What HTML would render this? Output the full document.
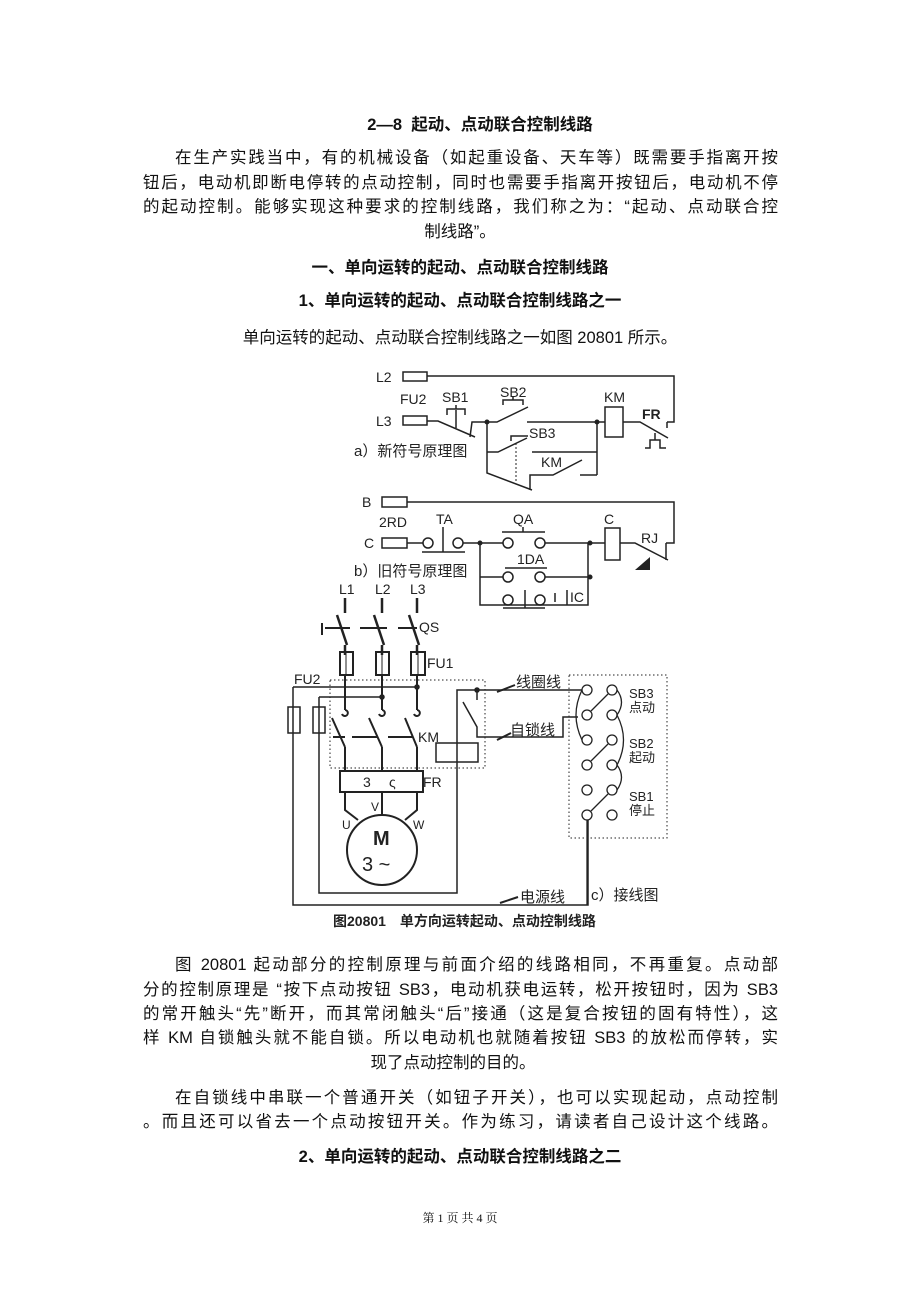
<!DOCTYPE html>
<html><head><meta charset="utf-8"><style>
body{margin:0;background:#fff;}
#p{position:relative;width:920px;height:1302px;overflow:hidden;font-family:"Liberation Sans","Noto Sans CJK SC",sans-serif;color:#111;}
.l{position:absolute;font-size:16.5px;line-height:24px;white-space:nowrap;}
.j{text-align:justify;text-align-last:justify;white-space:normal;overflow:hidden;height:24px;}
.c{left:0;width:920px;text-align:center;}
.b{font-weight:bold;}
svg{position:absolute;left:0;top:0;}
</style></head><body><div id="p">
<div class="l c b" style="top:113px;left:20px">2—8&nbsp;&nbsp;起动、点动联合控制线路</div>
<div class="l j" style="top:146px;left:175px;width:603px">在生产实践当中，有的机械设备（如起重设备、天车等）既需要手指离开按</div>
<div class="l j" style="top:171px;left:143px;width:635px">钮后，电动机即断电停转的点动控制，同时也需要手指离开按钮后，电动机不停</div>
<div class="l j" style="top:195px;left:143px;width:635px">的起动控制。能够实现这种要求的控制线路，我们称之为：“起动、点动联合控</div>
<div class="l c" style="top:220px">制线路”。</div>
<div class="l c b" style="top:256px">一、单向运转的起动、点动联合控制线路</div>
<div class="l c b" style="top:289px">1、单向运转的起动、点动联合控制线路之一</div>
<div class="l c" style="top:326px">单向运转的起动、点动联合控制线路之一如图 20801 所示。</div>

<svg width="920" height="1302" viewBox="0 0 920 1302" fill="none" stroke="#222" stroke-width="1.5" font-family="Liberation Sans,Noto Sans CJK SC,sans-serif">
<g fill="#222" stroke="none" font-size="14">
<text x="376" y="382">L2</text><text x="376" y="426">L3</text><text x="400" y="404">FU2</text><text x="442" y="402">SB1</text>
<text x="500" y="397">SB2</text><text x="604" y="402">KM</text><text x="642" y="419" font-weight="bold">FR</text>
<text x="529" y="438">SB3</text><text x="541" y="467">KM</text>
<text x="354" y="456" font-size="15">a）新符号原理图</text>
<text x="362" y="507">B</text><text x="379" y="527">2RD</text><text x="364" y="548">C</text><text x="436" y="524">TA</text>
<text x="513" y="524">QA</text><text x="604" y="524">C</text><text x="641" y="543">RJ</text><text x="517" y="564">1DA</text><text x="570" y="602">IC</text>
<text x="354" y="576" font-size="15">b）旧符号原理图</text>
<text x="339" y="594">L1</text><text x="375" y="594">L2</text><text x="410" y="594">L3</text>
<text x="419" y="632">QS</text><text x="427" y="668">FU1</text><text x="294" y="684">FU2</text><text x="418" y="742">KM</text>
<text x="423" y="787">FR</text><text x="363" y="787">3</text><text x="389" y="787">ς</text>
<text x="342" y="829" font-size="12">U</text><text x="371" y="811" font-size="12">V</text><text x="413" y="829" font-size="12">W</text>
<text x="373" y="845" font-size="20" font-weight="bold">M</text><text x="362" y="871" font-size="20">3 ~</text>
<text x="516" y="687" font-size="15">线圈线</text><text x="510" y="735" font-size="15">自锁线</text><text x="520" y="902" font-size="15">电源线</text>
<text x="591" y="900" font-size="15">c）接线图</text>
<text x="629" y="698" font-size="13">SB3</text><text x="629" y="712" font-size="13">点动</text>
<text x="629" y="748" font-size="13">SB2</text><text x="629" y="762" font-size="13">起动</text>
<text x="629" y="801" font-size="13">SB1</text><text x="629" y="815" font-size="13">停止</text>
<text x="333" y="926" font-size="14" font-weight="bold">图20801　单方向运转起动、点动控制线路</text>
</g>
<!-- a -->
<rect x="403" y="372" width="24" height="9"/><rect x="403" y="416" width="24" height="9"/>
<path d="M427 376H674V422H667M427 421H438L475 437M456 410V428M447 415V409H465V415M456 409V405M470 437L472 422H487H497L528 407M503 405V400H523V405M513 400V396M527 422H605M623 422H640L668 438M667 428V422"/>
<rect x="605" y="407" width="18" height="30"/>
<path d="M645 448H650V440H660V448H666M655 440V433"/>
<path d="M487 422V473L532 490M487 452H498L527 438M511 441V436H528M532 452H597M530 490V475H553L582 460M580 475H597M597 422V475"/>
<path d="M516 443V483" stroke-dasharray="2 2" stroke-width="1"/>
<circle cx="487" cy="422" r="1.8" fill="#222"/><circle cx="597" cy="422" r="1.8" fill="#222"/>
<!-- b -->
<rect x="382" y="497" width="25" height="10"/><rect x="382" y="538" width="25" height="10"/>
<path d="M407 502H674V543H666M407 543H423M422 552H465M443 527V552"/>
<circle cx="428" cy="543" r="5"/><circle cx="458" cy="543" r="5"/>
<path d="M463 543H503M502 532H545M523 532V527M545 543H605M620 543H635L668 560M666 543V560"/>
<circle cx="508" cy="543" r="5"/><circle cx="540" cy="543" r="5"/>
<rect x="605" y="528" width="15" height="32"/>
<polygon points="635,570 650,557 650,570" fill="#222" stroke="none"/>
<path d="M480 543V605H588V543M480 577H503M545 577H590M505 568H547M503 608H545M525 590V608M555 593V602M567 590V605"/>
<circle cx="508" cy="577" r="5"/><circle cx="540" cy="577" r="5"/><circle cx="508" cy="600" r="5"/><circle cx="540" cy="600" r="5"/>
<circle cx="480" cy="543" r="1.8" fill="#222"/><circle cx="590" cy="543" r="1.8" fill="#222"/><circle cx="590" cy="577" r="1.8" fill="#222"/>
<!-- c -->
<path d="M345 598V613M382 598V613M417 598V613M337 615L347 645M374 615L384 645M409 615L419 645M345 645V655M382 645V655M417 645V655" stroke-width="2.5"/>
<path d="M322 623V635M325 628H350M360 628H387M398 628H417" stroke-width="2"/>
<rect x="340" y="652" width="13" height="23" stroke-width="2"/><rect x="376" y="652" width="13" height="23" stroke-width="2"/><rect x="411" y="652" width="14" height="23" stroke-width="2"/>
<path d="M346 652V675M382 652V675M418 652V675" stroke-width="1"/>
<path d="M345 675V710M382 675V710M417 675V710" stroke-width="2"/>
<path d="M345 710a3 3 0 1 1-3 4M382 710a3 3 0 1 1-3 4M417 710a3 3 0 1 1-3 4" stroke-width="2"/>
<path d="M332 718L345 747M369 718L382 747M405 718L417 747M345 747V771M382 747V771M417 747V771" stroke-width="2"/>
<path d="M333 737H345M352 737H378M388 737H413" stroke-width="2"/>
<rect x="340" y="771" width="83" height="21" stroke-width="2"/>
<path d="M345 792V810L358 820M382 792V815M417 792V810L405 820" stroke-width="2"/>
<circle cx="382" cy="850" r="35" stroke-width="2"/>
<path d="M293 687H417V687M293 687V905H588V820M319 697H382M319 697V893H457V690H582"/>
<circle cx="417" cy="687" r="2" fill="#222"/><circle cx="382" cy="697" r="2" fill="#222"/><circle cx="477" cy="690" r="2" fill="#222"/>
<rect x="288" y="707" width="12" height="26"/><rect x="313" y="707" width="12" height="26"/>
<path d="M477 690V700M463 702L477 727V737H563V717H578"/>
<rect x="436" y="743" width="42" height="19"/>
<path d="M497 692L515 685M497 740L511 733M500 903L518 897" stroke-width="2"/>
<rect x="330" y="680" width="155" height="88" stroke-dasharray="1.5 2.5" stroke-width="1"/>
<rect x="569" y="675" width="98" height="163" stroke-dasharray="1.5 2.5" stroke-width="1"/>
<g stroke-width="1.3">
<circle cx="587" cy="690" r="5"/><circle cx="612" cy="690" r="5"/><circle cx="587" cy="715" r="5"/><circle cx="612" cy="715" r="5"/>
<circle cx="587" cy="740" r="5"/><circle cx="612" cy="740" r="5"/><circle cx="587" cy="765" r="5"/><circle cx="612" cy="765" r="5"/>
<circle cx="587" cy="790" r="5"/><circle cx="612" cy="790" r="5"/><circle cx="587" cy="815" r="5"/><circle cx="612" cy="815" r="5"/>
<path d="M591 711L608 694M591 761L608 744M591 811L608 794"/>
<path d="M582 690Q570 715 582 740M617 690Q626 702 617 715M617 715Q630 740 617 765M617 765Q626 777 617 790"/>
<path d="M587 820V905"/>
</g>
</svg>

<div class="l j" style="top:953px;left:175px;width:603px">图 20801 起动部分的控制原理与前面介绍的线路相同，不再重复。点动部</div>
<div class="l j" style="top:978px;left:143px;width:635px">分的控制原理是 “按下点动按钮 SB3，电动机获电运转，松开按钮时，因为 SB3</div>
<div class="l j" style="top:1002px;left:143px;width:635px">的常开触头“先”断开，而其常闭触头“后”接通（这是复合按钮的固有特性），这</div>
<div class="l j" style="top:1026px;left:143px;width:635px">样 KM 自锁触头就不能自锁。所以电动机也就随着按钮 SB3 的放松而停转，实</div>
<div class="l c" style="top:1051px;left:-7px">现了点动控制的目的。</div>
<div class="l j" style="top:1086px;left:175px;width:603px">在自锁线中串联一个普通开关（如钮子开关），也可以实现起动，点动控制</div>
<div class="l j" style="top:1110px;left:143px;width:635px">。而且还可以省去一个点动按钮开关。作为练习，请读者自己设计这个线路。</div>
<div class="l c b" style="top:1145px">2、单向运转的起动、点动联合控制线路之二</div>
<div class="l c" style="top:1208px;font-size:12px;line-height:20px;font-family:'Liberation Serif','Noto Serif CJK SC',serif">第 1 页 共 4 页</div>
</div></body></html>
